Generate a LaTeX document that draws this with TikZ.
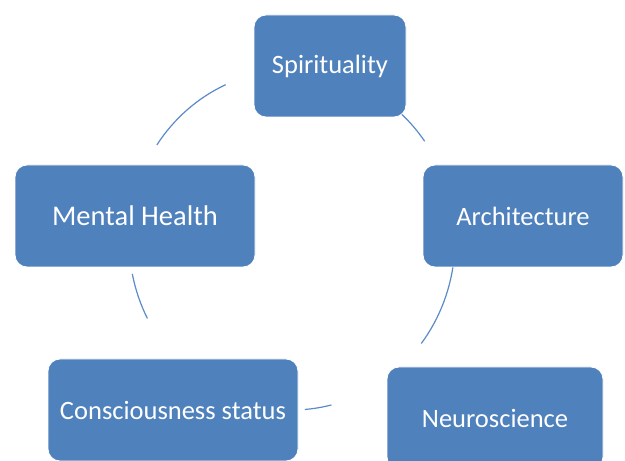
\documentclass[tikz,border=0pt]{standalone}
\usepackage{fontspec}
\setmainfont{Carlito}
\definecolor{boxblue}{HTML}{4F81BD}
\definecolor{arcblue}{HTML}{5B8BC8}
\begin{document}
\begin{tikzpicture}[x=1pt,y=1pt,
  cyclebox/.style={rectangle, rounded corners=12pt, fill=boxblue, draw=white, line width=0.8pt,
    text=white, minimum height=102pt, inner sep=0pt, font=\fontsize{26.5}{30}\selectfont},
  cyclearc/.style={draw=arcblue, line width=1.2pt}]
\useasboundingbox[fill=white] (0,0) rectangle (625,461);
\coordinate (c) at (292,221);
% arcs of the cycle (drawn first, boxes cover their ends)
\draw[cyclearc] (c) ++(146:163 and 170) arc[start angle=146, end angle=114, x radius=163, y radius=170];
\draw[cyclearc] (c) ++(52:163 and 170) arc[start angle=52, end angle=35.5, x radius=163, y radius=170];
\draw[cyclearc] (c) ++(-5:163 and 170) arc[start angle=-5, end angle=-37.5, x radius=163, y radius=170];
\draw[cyclearc] (c) ++(-76:163 and 170) arc[start angle=-76, end angle=-85.5, x radius=163, y radius=170];
\draw[cyclearc] (c) ++(-152.5:163 and 170) arc[start angle=-152.5, end angle=-168.5, x radius=163, y radius=170];
% boxes
\node[cyclebox, minimum width=152pt] (spi) at (330,395) {Spirituality};
\node[cyclebox, minimum width=200pt] (arc) at (523,245) {Architecture};
\node[cyclebox, minimum width=216pt] (neu) at (495,43) {Neuroscience};
\node[cyclebox, minimum width=250pt] (con) at (173,51) {Consciousness status};
\node[cyclebox, minimum width=240pt, font=\fontsize{28.5}{32}\selectfont] (men) at (135,245) {Mental Health};
\end{tikzpicture}
\end{document}
